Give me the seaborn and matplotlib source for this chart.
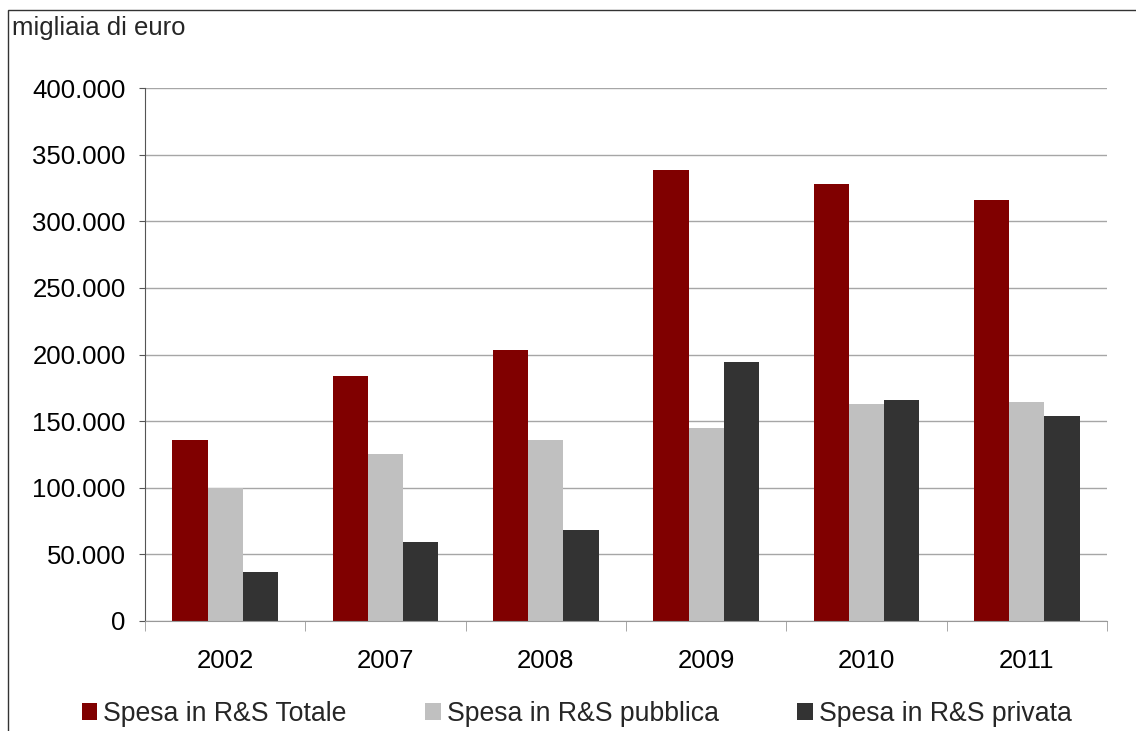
import pandas as pd
import numpy as np
import matplotlib.pyplot as plt
import seaborn as sns
from matplotlib.patches import Rectangle
from matplotlib.ticker import FuncFormatter, FixedLocator

# dati (migliaia di euro)
anni = ['2002', '2007', '2008', '2009', '2010', '2011']
totale = [136000, 184000, 203500, 338500, 328000, 316000]
pubblica = [99700, 125300, 135800, 144800, 162900, 164400]
privata = [36800, 59300, 68300, 194400, 165900, 153800]
serie = ['Spesa in R&S Totale', 'Spesa in R&S pubblica', 'Spesa in R&S privata']
colori = ['#800000', '#c0c0c0', '#333333']

df = pd.DataFrame({'anno': anni * 3,
                   'valore': totale + pubblica + privata,
                   'serie': [s for s in serie for _ in anni]})

sns.set_style('white')
plt.rcParams['font.family'] = ['Liberation Sans', 'DejaVu Sans']
fs = 18.5

fig = plt.figure(figsize=(11.36, 7.31), dpi=100)
ax = fig.add_axes([145/1136, 1 - 621/731, 962/1136, 533/731])

sns.barplot(data=df, x='anno', y='valore', hue='serie', palette=colori,
            width=0.66, saturation=1, linewidth=0, ax=ax, legend=True)

ax.set_ylim(0, 400000)
ax.set_xlim(-0.5, 5.5)
ax.set_yticks(np.arange(0, 400001, 50000))
ax.yaxis.set_major_formatter(FuncFormatter(lambda v, p: f'{int(v):,}'.replace(',', '.')))
ax.grid(axis='y', color='#a6a6a6', linewidth=1)
ax.set_axisbelow(True)
ax.set_xlabel('')
ax.set_ylabel('')

for s in ['top', 'right']:
    ax.spines[s].set_visible(False)
ax.spines['left'].set_color('#555555')
ax.spines['bottom'].set_color('#999999')

ax.tick_params(axis='y', which='major', left=True, length=4, color='#555555',
               labelsize=fs, pad=10, labelcolor='black')
ax.tick_params(axis='x', which='major', bottom=False, labelsize=fs, pad=17,
               labelcolor='black')
ax.xaxis.set_minor_locator(FixedLocator(np.arange(-0.5, 6, 1)))
ax.tick_params(axis='x', which='minor', bottom=True, length=7, color='#999999')

ax.legend(loc='center left', bbox_to_anchor=(82/1136, 1 - 714/731),
          bbox_transform=fig.transFigure, ncol=3, frameon=False, fontsize=19.2,
          handlelength=0.57, handleheight=0.57, handletextpad=0.23,
          columnspacing=2.95, borderaxespad=0, borderpad=0)

fig.text(12/1136, 1 - 28/731, 'migliaia di euro', fontsize=fs, va='center')

# cornice
fig.patches.append(Rectangle((8/1136, -0.1), 1.5, 1.1 - 10/731,
                             transform=fig.transFigure, fill=False,
                             edgecolor='#333333', linewidth=1))

fig.savefig('out.png', dpi=100)
